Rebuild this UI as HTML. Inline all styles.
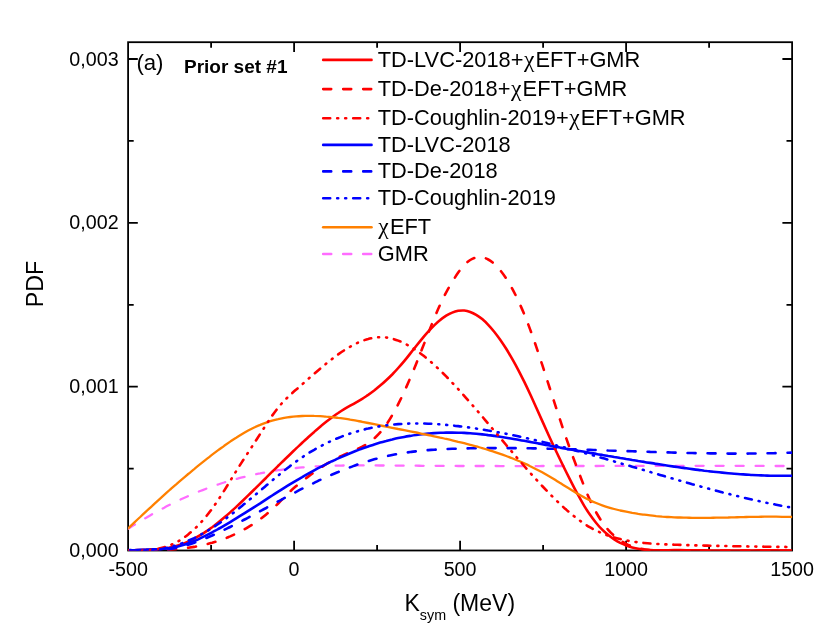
<!DOCTYPE html>
<html><head><meta charset="utf-8"><title>PDF Ksym</title>
<style>html,body{margin:0;padding:0;background:#fff}svg{display:block;will-change:transform}text{font-family:"Liberation Sans",sans-serif;fill:#000}</style></head>
<body>
<svg width="830" height="636" viewBox="0 0 830 636">
<rect width="830" height="636" fill="#fff"/>
<g stroke="#000" stroke-width="1.8" fill="none" stroke-linecap="butt">
<rect x="128.1" y="42.2" width="664.0" height="508.3"/>
<path d="M294.1 550.5v-9.7M294.1 42.2v9.7M460.1 550.5v-9.7M460.1 42.2v9.7M626.1 550.5v-9.7M626.1 42.2v9.7M211.1 550.5v-5.6M211.1 42.2v5.6M377.1 550.5v-5.6M377.1 42.2v5.6M543.1 550.5v-5.6M543.1 42.2v5.6M709.1 550.5v-5.6M709.1 42.2v5.6M128.1 386.7h9.7M792.1 386.7h-9.7M128.1 222.8h9.7M792.1 222.8h-9.7M128.1 59.0h9.7M792.1 59.0h-9.7M128.1 468.6h5.6M792.1 468.6h-5.6M128.1 304.8h5.6M792.1 304.8h-5.6M128.1 140.9h5.6M792.1 140.9h-5.6"/>
</g>
<clipPath id="cp"><rect x="128.1" y="42.2" width="664.0" height="508.5"/></clipPath>
<g fill="none" stroke-width="2.6" stroke-linecap="round" stroke-linejoin="round" clip-path="url(#cp)">
<path stroke="#ff6cff" stroke-dasharray="8 12" stroke-width="2.3" d="M128.2 528.8C130.2 527.5 132.2 526.2 134.2 524.9C136.2 523.7 138.2 522.5 140.2 521.2C142.2 520.0 144.2 518.8 146.2 517.7C148.2 516.5 150.2 515.3 152.2 514.2C154.2 513.1 156.2 512.0 158.2 510.9C160.2 509.8 162.2 508.7 164.2 507.7C166.2 506.6 168.2 505.6 170.2 504.6C172.2 503.6 174.2 502.6 176.2 501.6C178.2 500.7 180.2 499.7 182.2 498.8C184.2 497.9 186.2 497.0 188.2 496.1C190.2 495.2 192.2 494.3 194.2 493.5C196.2 492.7 198.2 491.8 200.2 491.0C202.2 490.3 204.2 489.5 206.2 488.7C208.2 488.0 210.2 487.2 212.2 486.5C214.2 485.8 216.2 485.1 218.2 484.5C220.2 483.8 222.2 483.1 224.2 482.5C226.2 481.9 228.2 481.3 230.2 480.7C232.2 480.1 234.2 479.5 236.2 479.0C238.2 478.5 240.2 477.9 242.2 477.4C244.2 476.9 246.2 476.4 248.2 476.0C250.2 475.5 252.2 475.0 254.2 474.6C256.2 474.2 258.2 473.7 260.2 473.4C262.2 473.0 264.2 472.6 266.2 472.2C268.2 471.8 270.2 471.5 272.2 471.2C274.2 470.8 276.2 470.5 278.2 470.2C280.2 469.9 282.2 469.7 284.2 469.4C286.2 469.1 288.2 468.9 290.2 468.7C292.2 468.4 294.2 468.2 296.2 468.0C298.2 467.8 300.2 467.6 302.2 467.4C304.2 467.3 306.2 467.1 308.2 467.0C310.2 466.8 312.2 466.7 314.2 466.6C316.2 466.4 318.2 466.3 320.2 466.2C322.2 466.1 324.2 466.0 326.2 466.0C328.2 465.9 330.2 465.8 332.2 465.8C334.2 465.7 336.2 465.6 338.2 465.6C340.2 465.6 342.2 465.5 344.2 465.5C346.2 465.5 348.2 465.4 350.2 465.4C352.2 465.4 354.2 465.4 356.2 465.4C358.2 465.4 360.2 465.4 362.2 465.4C364.2 465.4 366.2 465.4 368.2 465.4C370.2 465.4 372.2 465.4 374.2 465.4C376.2 465.5 378.2 465.5 380.2 465.5C382.2 465.5 384.2 465.5 386.2 465.5C388.2 465.5 390.2 465.6 392.2 465.6C394.2 465.6 396.2 465.6 398.2 465.6C400.2 465.6 402.2 465.6 404.2 465.7C406.2 465.7 408.2 465.7 410.2 465.7C412.2 465.7 414.2 465.7 416.2 465.7C418.2 465.7 420.2 465.8 422.2 465.8C424.2 465.8 426.2 465.8 428.2 465.8C430.2 465.8 432.2 465.8 434.2 465.8C436.2 465.8 438.2 465.9 440.2 465.9C442.2 465.9 444.2 465.9 446.2 465.9C448.2 465.9 450.2 465.9 452.2 465.9C454.2 465.9 456.2 465.9 458.2 466.0C460.2 466.0 462.2 466.0 464.2 466.0C466.2 466.0 468.2 466.0 470.2 466.0C472.2 466.0 474.2 466.0 476.2 466.0C478.2 466.0 480.2 466.0 482.2 466.0C484.2 466.0 486.2 466.0 488.2 466.0C490.2 466.0 492.2 466.0 494.2 466.0C496.2 466.0 498.2 466.0 500.2 466.1C502.2 466.1 504.2 466.1 506.2 466.1C508.2 466.1 510.2 466.1 512.2 466.1C514.2 466.1 516.2 466.1 518.2 466.1C520.2 466.1 522.2 466.1 524.2 466.1C526.2 466.1 528.2 466.1 530.2 466.1C532.2 466.1 534.2 466.1 536.2 466.1C538.2 466.1 540.2 466.0 542.2 466.0C544.2 466.0 546.2 466.0 548.2 466.0C550.2 466.0 552.2 466.0 554.2 466.0C556.2 466.0 558.2 466.0 560.2 466.0C562.2 466.0 564.2 466.0 566.2 466.0C568.2 466.0 570.2 466.0 572.2 466.0C574.2 466.0 576.2 466.0 578.2 466.0C580.2 466.0 582.2 466.0 584.2 466.0C586.2 466.0 588.2 466.0 590.2 466.0C592.2 466.0 594.2 466.0 596.2 466.0C598.2 465.9 600.2 465.9 602.2 465.9C604.2 465.9 606.2 465.9 608.2 465.9C610.2 465.9 612.2 465.9 614.2 465.9C616.2 465.9 618.2 465.9 620.2 465.9C622.2 465.9 624.2 465.9 626.2 465.9C628.2 465.9 630.2 465.9 632.2 465.9C634.2 465.9 636.2 465.9 638.2 465.9C640.2 465.9 642.2 465.9 644.2 465.9C646.2 465.8 648.2 465.8 650.2 465.8C652.2 465.8 654.2 465.8 656.2 465.8C658.2 465.8 660.2 465.8 662.2 465.8C664.2 465.8 666.2 465.8 668.2 465.8C670.2 465.8 672.2 465.8 674.2 465.8C676.2 465.8 678.2 465.8 680.2 465.8C682.2 465.8 684.2 465.8 686.2 465.8C688.2 465.8 690.2 465.8 692.2 465.8C694.2 465.8 696.2 465.8 698.2 465.8C700.2 465.8 702.2 465.8 704.2 465.8C706.2 465.8 708.2 465.8 710.2 465.8C712.2 465.8 714.2 465.8 716.2 465.8C718.2 465.8 720.2 465.8 722.2 465.8C724.2 465.8 726.2 465.8 728.2 465.8C730.2 465.8 732.2 465.8 734.2 465.8C736.2 465.8 738.2 465.8 740.2 465.8C742.2 465.8 744.2 465.9 746.2 465.9C748.2 465.9 750.2 465.9 752.2 465.9C754.2 465.9 756.2 465.9 758.2 465.9C760.2 465.9 762.2 465.9 764.2 465.9C766.2 465.9 768.2 465.9 770.2 466.0C772.2 466.0 774.2 466.0 776.2 466.0C778.2 466.0 780.2 466.0 782.2 466.0C784.2 466.0 786.2 466.0 788.2 466.1C789.5 466.1 790.7 466.1 792.0 466.1"/>
<path stroke="#ff0000" stroke-dasharray="8 12" d="M128.2 550.5C130.2 550.5 132.2 550.5 134.2 550.5C136.2 550.5 138.2 550.5 140.2 550.5C142.2 550.5 144.2 550.5 146.2 550.5C148.2 550.4 150.2 550.4 152.2 550.4C154.2 550.3 156.2 550.3 158.2 550.2C160.2 550.2 162.2 550.1 164.2 550.0C166.2 549.9 168.2 549.8 170.2 549.6C172.2 549.5 174.2 549.4 176.2 549.2C178.2 549.0 180.2 548.8 182.2 548.6C184.2 548.3 186.2 548.1 188.2 547.8C190.2 547.5 192.2 547.2 194.2 546.9C196.2 546.5 198.2 546.1 200.2 545.7C202.2 545.3 204.2 544.9 206.2 544.4C208.2 543.9 210.2 543.3 212.2 542.8C214.2 542.2 216.2 541.6 218.2 540.9C220.2 540.3 222.2 539.6 224.2 538.8C226.2 538.1 228.2 537.2 230.2 536.4C232.2 535.5 234.2 534.6 236.2 533.7C238.2 532.7 240.2 531.7 242.2 530.6C244.2 529.5 246.2 528.3 248.2 527.1C250.2 525.9 252.2 524.7 254.2 523.3C256.2 522.0 258.2 520.6 260.2 519.1C262.2 517.6 264.2 516.0 266.2 514.4C268.2 512.8 270.2 511.0 272.2 509.2C274.2 507.4 276.2 505.5 278.2 503.5C280.2 501.5 282.2 499.4 284.2 497.3C286.2 495.2 288.2 493.2 290.2 491.4C292.2 489.5 294.2 487.8 296.2 486.1C298.2 484.5 300.2 482.8 302.2 481.3C304.2 479.7 306.2 478.1 308.2 476.6C310.2 475.1 312.2 473.6 314.2 472.2C316.2 470.8 318.2 469.4 320.2 468.0C322.2 466.7 324.2 465.4 326.2 464.2C328.2 463.0 330.2 461.8 332.2 460.7C334.2 459.5 336.2 458.5 338.2 457.5C340.2 456.5 342.2 455.5 344.2 454.6C346.2 453.8 348.2 452.9 350.2 452.1C352.2 451.3 354.2 450.4 356.2 449.6C358.2 448.7 360.2 447.7 362.2 446.7C364.2 445.6 366.2 444.4 368.2 443.1C370.2 441.7 372.2 440.2 374.2 438.4C376.2 436.7 378.2 434.7 380.2 432.4C382.2 430.2 384.2 427.6 386.2 424.7C388.2 421.8 390.2 418.7 392.2 415.2C394.2 411.8 396.2 408.1 398.2 404.2C400.2 400.2 402.2 396.1 404.2 391.7C406.2 387.4 408.2 382.8 410.2 378.1C412.2 373.4 414.2 368.6 416.2 363.7C418.2 358.7 420.2 353.7 422.2 348.6C424.2 343.6 426.2 338.4 428.2 333.3C430.2 328.2 432.2 323.2 434.2 318.4C436.2 313.5 438.2 308.8 440.2 304.5C442.2 300.1 444.2 296.0 446.2 292.3C448.2 288.6 450.2 285.1 452.2 281.9C454.2 278.6 456.2 275.5 458.2 272.6C460.2 269.7 462.2 267.2 464.2 265.1C466.2 262.9 468.2 261.3 470.2 260.0C472.2 258.8 474.2 257.9 476.2 257.5C478.2 257.1 480.2 257.0 482.2 257.4C484.2 257.7 486.2 258.4 488.2 259.5C490.2 260.6 492.2 262.0 494.2 263.8C496.2 265.6 498.2 267.7 500.2 270.2C502.2 272.6 504.2 275.4 506.2 278.5C508.2 281.5 510.2 284.9 512.2 288.6C514.2 292.3 516.2 296.2 518.2 300.5C520.2 304.8 522.2 309.3 524.2 314.2C526.2 319.0 528.2 324.2 530.2 329.6C532.2 335.1 534.2 340.8 536.2 346.6C538.2 352.5 540.2 358.6 542.2 364.7C544.2 370.8 546.2 377.0 548.2 383.3C550.2 389.5 552.2 395.7 554.2 401.8C556.2 408.0 558.2 414.2 560.2 420.2C562.2 426.3 564.2 432.3 566.2 438.1C568.2 443.9 570.2 449.4 572.2 454.8C574.2 460.2 576.2 465.5 578.2 470.7C580.2 476.0 582.2 481.3 584.2 486.4C586.2 491.5 588.2 496.3 590.2 500.6C592.2 505.0 594.2 508.9 596.2 512.5C598.2 516.0 600.2 519.2 602.2 522.1C604.2 525.0 606.2 527.5 608.2 529.8C610.2 532.1 612.2 534.1 614.2 535.8C616.2 537.6 618.2 539.1 620.2 540.4C622.2 541.7 624.2 542.9 626.2 543.8C628.2 544.8 630.2 545.7 632.2 546.4C634.2 547.1 636.2 547.7 638.2 548.2C640.2 548.7 642.2 549.1 644.2 549.4C646.2 549.8 648.2 550.0 650.2 550.2C652.2 550.4 654.2 550.4 656.2 550.5C658.2 550.6 660.2 550.5 662.2 550.5C664.2 550.5 666.2 550.5 668.2 550.5C670.2 550.5 672.2 550.5 674.2 550.4C676.2 550.4 678.2 550.4 680.2 550.4C682.2 550.4 684.2 550.4 686.2 550.4C688.2 550.3 690.2 550.4 692.2 550.4C694.2 550.4 696.2 550.4 698.2 550.4C700.2 550.4 702.2 550.4 704.2 550.4C706.2 550.4 708.2 550.5 710.2 550.5C712.2 550.5 714.2 550.5 716.2 550.5C718.2 550.5 720.2 550.5 722.2 550.5C724.2 550.5 726.2 550.5 728.2 550.5C730.2 550.5 732.2 550.5 734.2 550.5C736.2 550.5 738.2 550.5 740.2 550.5C742.2 550.5 744.2 550.5 746.2 550.5C748.2 550.5 750.2 550.5 752.2 550.5C754.2 550.5 756.2 550.5 758.2 550.5C760.2 550.5 762.2 550.5 764.2 550.5C766.2 550.5 768.2 550.5 770.2 550.5C772.2 550.5 774.2 550.5 776.2 550.5C778.2 550.5 780.2 550.5 782.2 550.5C784.2 550.5 786.2 550.5 788.2 550.5C789.5 550.5 790.7 550.5 792.0 550.5"/>
<path stroke="#0000ff" stroke-dasharray="8 12" d="M128.2 550.1C130.2 550.2 132.2 550.2 134.2 550.3C136.2 550.3 138.2 550.4 140.2 550.4C142.2 550.4 144.2 550.5 146.2 550.5C148.2 550.5 150.2 550.5 152.2 550.4C154.2 550.4 156.2 550.3 158.2 550.2C160.2 550.1 162.2 549.9 164.2 549.7C166.2 549.5 168.2 549.2 170.2 548.9C172.2 548.6 174.2 548.3 176.2 547.9C178.2 547.4 180.2 547.0 182.2 546.4C184.2 545.9 186.2 545.3 188.2 544.7C190.2 544.1 192.2 543.4 194.2 542.7C196.2 542.0 198.2 541.3 200.2 540.5C202.2 539.7 204.2 538.9 206.2 538.1C208.2 537.2 210.2 536.4 212.2 535.5C214.2 534.6 216.2 533.7 218.2 532.8C220.2 531.8 222.2 530.9 224.2 529.9C226.2 528.9 228.2 528.0 230.2 527.0C232.2 526.0 234.2 525.0 236.2 523.9C238.2 522.9 240.2 521.9 242.2 520.8C244.2 519.8 246.2 518.7 248.2 517.7C250.2 516.6 252.2 515.5 254.2 514.5C256.2 513.4 258.2 512.3 260.2 511.2C262.2 510.1 264.2 509.0 266.2 508.0C268.2 506.9 270.2 505.8 272.2 504.7C274.2 503.6 276.2 502.5 278.2 501.4C280.2 500.3 282.2 499.3 284.2 498.2C286.2 497.1 288.2 496.0 290.2 495.0C292.2 493.9 294.2 492.9 296.2 491.8C298.2 490.8 300.2 489.8 302.2 488.7C304.2 487.7 306.2 486.7 308.2 485.7C310.2 484.7 312.2 483.8 314.2 482.8C316.2 481.8 318.2 480.9 320.2 479.9C322.2 479.0 324.2 478.1 326.2 477.2C328.2 476.3 330.2 475.4 332.2 474.5C334.2 473.7 336.2 472.8 338.2 472.0C340.2 471.1 342.2 470.3 344.2 469.5C346.2 468.7 348.2 468.0 350.2 467.2C352.2 466.5 354.2 465.7 356.2 465.0C358.2 464.3 360.2 463.7 362.2 463.0C364.2 462.3 366.2 461.7 368.2 461.1C370.2 460.5 372.2 459.9 374.2 459.3C376.2 458.8 378.2 458.2 380.2 457.7C382.2 457.2 384.2 456.7 386.2 456.3C388.2 455.8 390.2 455.4 392.2 455.0C394.2 454.6 396.2 454.2 398.2 453.9C400.2 453.5 402.2 453.2 404.2 452.9C406.2 452.6 408.2 452.3 410.2 452.0C412.2 451.8 414.2 451.5 416.2 451.3C418.2 451.1 420.2 450.9 422.2 450.7C424.2 450.5 426.2 450.3 428.2 450.1C430.2 450.0 432.2 449.8 434.2 449.7C436.2 449.6 438.2 449.5 440.2 449.3C442.2 449.2 444.2 449.1 446.2 449.0C448.2 449.0 450.2 448.9 452.2 448.8C454.2 448.7 456.2 448.7 458.2 448.6C460.2 448.6 462.2 448.5 464.2 448.5C466.2 448.4 468.2 448.4 470.2 448.3C472.2 448.3 474.2 448.3 476.2 448.2C478.2 448.2 480.2 448.2 482.2 448.2C484.2 448.1 486.2 448.1 488.2 448.1C490.2 448.1 492.2 448.1 494.2 448.1C496.2 448.1 498.2 448.1 500.2 448.1C502.2 448.1 504.2 448.1 506.2 448.1C508.2 448.1 510.2 448.1 512.2 448.1C514.2 448.1 516.2 448.1 518.2 448.2C520.2 448.2 522.2 448.2 524.2 448.2C526.2 448.2 528.2 448.3 530.2 448.3C532.2 448.3 534.2 448.4 536.2 448.4C538.2 448.4 540.2 448.5 542.2 448.5C544.2 448.6 546.2 448.6 548.2 448.7C550.2 448.7 552.2 448.7 554.2 448.8C556.2 448.8 558.2 448.9 560.2 448.9C562.2 449.0 564.2 449.1 566.2 449.1C568.2 449.2 570.2 449.2 572.2 449.3C574.2 449.3 576.2 449.4 578.2 449.5C580.2 449.5 582.2 449.6 584.2 449.7C586.2 449.7 588.2 449.8 590.2 449.8C592.2 449.9 594.2 450.0 596.2 450.0C598.2 450.1 600.2 450.2 602.2 450.2C604.2 450.3 606.2 450.4 608.2 450.5C610.2 450.5 612.2 450.6 614.2 450.7C616.2 450.7 618.2 450.8 620.2 450.9C622.2 450.9 624.2 451.0 626.2 451.1C628.2 451.1 630.2 451.2 632.2 451.3C634.2 451.4 636.2 451.4 638.2 451.5C640.2 451.6 642.2 451.6 644.2 451.7C646.2 451.8 648.2 451.8 650.2 451.9C652.2 451.9 654.2 452.0 656.2 452.1C658.2 452.1 660.2 452.2 662.2 452.3C664.2 452.3 666.2 452.4 668.2 452.4C670.2 452.5 672.2 452.5 674.2 452.6C676.2 452.7 678.2 452.7 680.2 452.8C682.2 452.8 684.2 452.9 686.2 452.9C688.2 453.0 690.2 453.0 692.2 453.0C694.2 453.1 696.2 453.1 698.2 453.2C700.2 453.2 702.2 453.2 704.2 453.3C706.2 453.3 708.2 453.3 710.2 453.4C712.2 453.4 714.2 453.4 716.2 453.4C718.2 453.5 720.2 453.5 722.2 453.5C724.2 453.5 726.2 453.5 728.2 453.6C730.2 453.6 732.2 453.6 734.2 453.6C736.2 453.6 738.2 453.6 740.2 453.6C742.2 453.6 744.2 453.6 746.2 453.6C748.2 453.6 750.2 453.5 752.2 453.5C754.2 453.5 756.2 453.5 758.2 453.5C760.2 453.4 762.2 453.4 764.2 453.4C766.2 453.3 768.2 453.3 770.2 453.3C772.2 453.2 774.2 453.2 776.2 453.1C778.2 453.1 780.2 453.0 782.2 452.9C784.2 452.9 786.2 452.8 788.2 452.7C789.5 452.7 790.7 452.7 792.0 452.6"/>
<path stroke="#ff0000" d="M128.2 550.5C130.2 550.3 132.2 550.5 134.2 550.3C136.2 550.2 138.2 550.1 140.2 550.0C142.2 549.9 144.2 549.9 146.2 549.8C148.2 549.7 150.2 549.7 152.2 549.6C154.2 549.5 156.2 549.3 158.2 549.2C160.2 549.0 162.2 548.8 164.2 548.5C166.2 548.3 168.2 547.9 170.2 547.5C172.2 547.1 174.2 546.6 176.2 546.1C178.2 545.5 180.2 544.8 182.2 544.1C184.2 543.3 186.2 542.5 188.2 541.6C190.2 540.7 192.2 539.7 194.2 538.6C196.2 537.6 198.2 536.4 200.2 535.2C202.2 534.0 204.2 532.8 206.2 531.4C208.2 530.1 210.2 528.6 212.2 527.2C214.2 525.7 216.2 524.2 218.2 522.6C220.2 521.0 222.2 519.3 224.2 517.6C226.2 515.9 228.2 514.2 230.2 512.4C232.2 510.6 234.2 508.7 236.2 506.9C238.2 505.0 240.2 503.1 242.2 501.2C244.2 499.3 246.2 497.4 248.2 495.4C250.2 493.5 252.2 491.5 254.2 489.5C256.2 487.6 258.2 485.6 260.2 483.6C262.2 481.6 264.2 479.6 266.2 477.7C268.2 475.7 270.2 473.7 272.2 471.7C274.2 469.8 276.2 467.8 278.2 465.8C280.2 463.9 282.2 461.9 284.2 460.0C286.2 458.0 288.2 456.1 290.2 454.2C292.2 452.3 294.2 450.3 296.2 448.4C298.2 446.5 300.2 444.7 302.2 442.8C304.2 440.9 306.2 439.1 308.2 437.2C310.2 435.4 312.2 433.6 314.2 431.9C316.2 430.1 318.2 428.4 320.2 426.7C322.2 425.0 324.2 423.4 326.2 421.8C328.2 420.2 330.2 418.7 332.2 417.2C334.2 415.7 336.2 414.3 338.2 413.0C340.2 411.6 342.2 410.3 344.2 409.1C346.2 407.9 348.2 406.8 350.2 405.7C352.2 404.6 354.2 403.5 356.2 402.3C358.2 401.2 360.2 400.0 362.2 398.8C364.2 397.6 366.2 396.2 368.2 394.9C370.2 393.5 372.2 392.0 374.2 390.5C376.2 388.9 378.2 387.3 380.2 385.6C382.2 384.0 384.2 382.2 386.2 380.3C388.2 378.5 390.2 376.5 392.2 374.5C394.2 372.4 396.2 370.3 398.2 368.0C400.2 365.8 402.2 363.5 404.2 361.1C406.2 358.7 408.2 356.2 410.2 353.6C412.2 351.1 414.2 348.5 416.2 346.0C418.2 343.5 420.2 341.0 422.2 338.6C424.2 336.2 426.2 333.9 428.2 331.7C430.2 329.5 432.2 327.4 434.2 325.4C436.2 323.5 438.2 321.7 440.2 320.1C442.2 318.4 444.2 317.0 446.2 315.7C448.2 314.5 450.2 313.4 452.2 312.6C454.2 311.8 456.2 311.2 458.2 310.8C460.2 310.5 462.2 310.4 464.2 310.5C466.2 310.7 468.2 311.2 470.2 311.9C472.2 312.6 474.2 313.6 476.2 314.8C478.2 316.0 480.2 317.4 482.2 319.1C484.2 320.8 486.2 322.7 488.2 324.8C490.2 326.9 492.2 329.2 494.2 331.7C496.2 334.2 498.2 336.9 500.2 339.7C502.2 342.6 504.2 345.6 506.2 348.8C508.2 352.0 510.2 355.4 512.2 358.9C514.2 362.4 516.2 366.0 518.2 369.8C520.2 373.6 522.2 377.6 524.2 381.6C526.2 385.7 528.2 389.9 530.2 394.2C532.2 398.5 534.2 403.0 536.2 407.5C538.2 411.9 540.2 416.4 542.2 420.9C544.2 425.4 546.2 429.9 548.2 434.3C550.2 438.7 552.2 443.0 554.2 447.3C556.2 451.5 558.2 455.7 560.2 459.8C562.2 463.9 564.2 468.0 566.2 472.0C568.2 476.0 570.2 479.9 572.2 483.8C574.2 487.7 576.2 491.6 578.2 495.2C580.2 498.9 582.2 502.5 584.2 505.8C586.2 509.1 588.2 512.3 590.2 515.1C592.2 518.0 594.2 520.6 596.2 523.0C598.2 525.5 600.2 527.7 602.2 529.7C604.2 531.7 606.2 533.4 608.2 535.1C610.2 536.7 612.2 538.1 614.2 539.4C616.2 540.7 618.2 541.9 620.2 542.9C622.2 543.8 624.2 544.7 626.2 545.5C628.2 546.2 630.2 546.9 632.2 547.4C634.2 547.9 636.2 548.4 638.2 548.7C640.2 549.1 642.2 549.4 644.2 549.6C646.2 549.8 648.2 550.0 650.2 550.1C652.2 550.2 654.2 550.3 656.2 550.3C658.2 550.3 660.2 550.3 662.2 550.3C664.2 550.3 666.2 550.3 668.2 550.2C670.2 550.2 672.2 550.2 674.2 550.1C676.2 550.1 678.2 550.1 680.2 550.1C682.2 550.1 684.2 550.1 686.2 550.2C688.2 550.2 690.2 550.2 692.2 550.2C694.2 550.3 696.2 550.3 698.2 550.3C700.2 550.4 702.2 550.4 704.2 550.5C706.2 550.5 708.2 550.5 710.2 550.5C712.2 550.5 714.2 550.5 716.2 550.5C718.2 550.5 720.2 550.5 722.2 550.5C724.2 550.5 726.2 550.5 728.2 550.5C730.2 550.5 732.2 550.5 734.2 550.5C736.2 550.5 738.2 550.5 740.2 550.5C742.2 550.5 744.2 550.5 746.2 550.5C748.2 550.5 750.2 550.5 752.2 550.5C754.2 550.5 756.2 550.5 758.2 550.4C760.2 550.4 762.2 550.4 764.2 550.4C766.2 550.4 768.2 550.4 770.2 550.4C772.2 550.4 774.2 550.4 776.2 550.4C778.2 550.4 780.2 550.4 782.2 550.5C784.2 550.5 786.2 550.5 788.2 550.5C789.5 550.5 790.7 550.5 792.0 550.5"/>
<path stroke="#0000ff" d="M128.2 550.5C130.2 550.2 132.2 550.4 134.2 550.2C136.2 550.0 138.2 549.9 140.2 549.8C142.2 549.7 144.2 549.6 146.2 549.6C148.2 549.5 150.2 549.5 152.2 549.4C154.2 549.3 156.2 549.3 158.2 549.2C160.2 549.1 162.2 548.9 164.2 548.8C166.2 548.6 168.2 548.3 170.2 548.0C172.2 547.7 174.2 547.4 176.2 546.9C178.2 546.5 180.2 545.9 182.2 545.3C184.2 544.7 186.2 544.1 188.2 543.3C190.2 542.6 192.2 541.8 194.2 541.0C196.2 540.2 198.2 539.3 200.2 538.3C202.2 537.4 204.2 536.4 206.2 535.4C208.2 534.4 210.2 533.4 212.2 532.3C214.2 531.2 216.2 530.2 218.2 529.0C220.2 527.9 222.2 526.8 224.2 525.6C226.2 524.5 228.2 523.3 230.2 522.1C232.2 520.9 234.2 519.7 236.2 518.4C238.2 517.2 240.2 516.0 242.2 514.7C244.2 513.5 246.2 512.2 248.2 510.9C250.2 509.7 252.2 508.4 254.2 507.1C256.2 505.8 258.2 504.5 260.2 503.3C262.2 502.0 264.2 500.7 266.2 499.4C268.2 498.1 270.2 496.8 272.2 495.5C274.2 494.3 276.2 493.0 278.2 491.7C280.2 490.5 282.2 489.2 284.2 487.9C286.2 486.7 288.2 485.5 290.2 484.2C292.2 483.0 294.2 481.8 296.2 480.6C298.2 479.4 300.2 478.2 302.2 477.1C304.2 475.9 306.2 474.8 308.2 473.7C310.2 472.6 312.2 471.5 314.2 470.4C316.2 469.3 318.2 468.2 320.2 467.2C322.2 466.2 324.2 465.1 326.2 464.1C328.2 463.1 330.2 462.2 332.2 461.2C334.2 460.3 336.2 459.3 338.2 458.4C340.2 457.5 342.2 456.6 344.2 455.7C346.2 454.9 348.2 454.0 350.2 453.2C352.2 452.4 354.2 451.6 356.2 450.8C358.2 450.0 360.2 449.3 362.2 448.5C364.2 447.8 366.2 447.1 368.2 446.4C370.2 445.7 372.2 445.1 374.2 444.4C376.2 443.8 378.2 443.2 380.2 442.6C382.2 442.0 384.2 441.5 386.2 441.0C388.2 440.4 390.2 439.9 392.2 439.5C394.2 439.0 396.2 438.5 398.2 438.1C400.2 437.7 402.2 437.3 404.2 436.9C406.2 436.5 408.2 436.2 410.2 435.9C412.2 435.5 414.2 435.2 416.2 435.0C418.2 434.7 420.2 434.4 422.2 434.2C424.2 434.0 426.2 433.8 428.2 433.6C430.2 433.4 432.2 433.3 434.2 433.1C436.2 433.0 438.2 432.9 440.2 432.8C442.2 432.7 444.2 432.7 446.2 432.6C448.2 432.6 450.2 432.6 452.2 432.6C454.2 432.6 456.2 432.6 458.2 432.7C460.2 432.8 462.2 432.8 464.2 432.9C466.2 433.0 468.2 433.2 470.2 433.3C472.2 433.4 474.2 433.6 476.2 433.8C478.2 434.0 480.2 434.2 482.2 434.4C484.2 434.6 486.2 434.8 488.2 435.1C490.2 435.3 492.2 435.6 494.2 435.9C496.2 436.2 498.2 436.5 500.2 436.8C502.2 437.1 504.2 437.4 506.2 437.7C508.2 438.0 510.2 438.4 512.2 438.7C514.2 439.0 516.2 439.4 518.2 439.7C520.2 440.1 522.2 440.5 524.2 440.8C526.2 441.2 528.2 441.6 530.2 441.9C532.2 442.3 534.2 442.7 536.2 443.1C538.2 443.5 540.2 443.8 542.2 444.2C544.2 444.6 546.2 445.0 548.2 445.3C550.2 445.7 552.2 446.1 554.2 446.5C556.2 446.8 558.2 447.2 560.2 447.6C562.2 447.9 564.2 448.3 566.2 448.7C568.2 449.0 570.2 449.4 572.2 449.7C574.2 450.1 576.2 450.4 578.2 450.8C580.2 451.1 582.2 451.5 584.2 451.8C586.2 452.2 588.2 452.5 590.2 452.9C592.2 453.2 594.2 453.6 596.2 453.9C598.2 454.3 600.2 454.6 602.2 454.9C604.2 455.3 606.2 455.6 608.2 456.0C610.2 456.3 612.2 456.6 614.2 457.0C616.2 457.3 618.2 457.6 620.2 458.0C622.2 458.3 624.2 458.6 626.2 459.0C628.2 459.3 630.2 459.6 632.2 460.0C634.2 460.3 636.2 460.6 638.2 461.0C640.2 461.3 642.2 461.6 644.2 461.9C646.2 462.3 648.2 462.6 650.2 462.9C652.2 463.2 654.2 463.5 656.2 463.9C658.2 464.2 660.2 464.5 662.2 464.8C664.2 465.1 666.2 465.4 668.2 465.7C670.2 466.0 672.2 466.3 674.2 466.6C676.2 466.9 678.2 467.2 680.2 467.5C682.2 467.8 684.2 468.0 686.2 468.3C688.2 468.6 690.2 468.9 692.2 469.1C694.2 469.4 696.2 469.7 698.2 469.9C700.2 470.2 702.2 470.4 704.2 470.7C706.2 470.9 708.2 471.1 710.2 471.4C712.2 471.6 714.2 471.8 716.2 472.0C718.2 472.2 720.2 472.4 722.2 472.6C724.2 472.8 726.2 473.0 728.2 473.2C730.2 473.4 732.2 473.6 734.2 473.7C736.2 473.9 738.2 474.1 740.2 474.2C742.2 474.3 744.2 474.5 746.2 474.6C748.2 474.7 750.2 474.9 752.2 475.0C754.2 475.1 756.2 475.2 758.2 475.3C760.2 475.4 762.2 475.4 764.2 475.5C766.2 475.6 768.2 475.6 770.2 475.7C772.2 475.7 774.2 475.7 776.2 475.8C778.2 475.8 780.2 475.8 782.2 475.8C784.2 475.8 786.2 475.8 788.2 475.7C789.5 475.7 790.7 475.7 792.0 475.7"/>
<path stroke="#ff8000" stroke-width="2.3" d="M128.2 528.4C130.2 526.4 132.2 524.5 134.2 522.6C136.2 520.7 138.2 518.8 140.2 517.0C142.2 515.1 144.2 513.2 146.2 511.3C148.2 509.5 150.2 507.6 152.2 505.8C154.2 503.9 156.2 502.1 158.2 500.3C160.2 498.5 162.2 496.7 164.2 494.9C166.2 493.1 168.2 491.3 170.2 489.5C172.2 487.8 174.2 486.0 176.2 484.3C178.2 482.5 180.2 480.8 182.2 479.1C184.2 477.4 186.2 475.7 188.2 474.0C190.2 472.4 192.2 470.7 194.2 469.1C196.2 467.4 198.2 465.8 200.2 464.2C202.2 462.6 204.2 461.0 206.2 459.4C208.2 457.8 210.2 456.3 212.2 454.7C214.2 453.2 216.2 451.7 218.2 450.2C220.2 448.7 222.2 447.3 224.2 445.8C226.2 444.4 228.2 443.0 230.2 441.6C232.2 440.3 234.2 438.9 236.2 437.7C238.2 436.4 240.2 435.2 242.2 434.0C244.2 432.8 246.2 431.7 248.2 430.6C250.2 429.5 252.2 428.5 254.2 427.5C256.2 426.6 258.2 425.7 260.2 424.9C262.2 424.0 264.2 423.3 266.2 422.6C268.2 421.9 270.2 421.3 272.2 420.7C274.2 420.1 276.2 419.6 278.2 419.2C280.2 418.7 282.2 418.3 284.2 417.9C286.2 417.6 288.2 417.3 290.2 417.0C292.2 416.8 294.2 416.6 296.2 416.4C298.2 416.2 300.2 416.1 302.2 416.0C304.2 415.9 306.2 415.9 308.2 415.8C310.2 415.8 312.2 415.8 314.2 415.9C316.2 415.9 318.2 416.0 320.2 416.1C322.2 416.3 324.2 416.4 326.2 416.6C328.2 416.7 330.2 416.9 332.2 417.1C334.2 417.4 336.2 417.6 338.2 417.9C340.2 418.1 342.2 418.4 344.2 418.7C346.2 419.0 348.2 419.3 350.2 419.7C352.2 420.0 354.2 420.4 356.2 420.7C358.2 421.1 360.2 421.4 362.2 421.8C364.2 422.2 366.2 422.6 368.2 423.0C370.2 423.4 372.2 423.8 374.2 424.2C376.2 424.6 378.2 425.0 380.2 425.4C382.2 425.8 384.2 426.2 386.2 426.6C388.2 427.0 390.2 427.4 392.2 427.8C394.2 428.2 396.2 428.6 398.2 429.0C400.2 429.3 402.2 429.7 404.2 430.1C406.2 430.5 408.2 430.9 410.2 431.3C412.2 431.7 414.2 432.1 416.2 432.5C418.2 432.9 420.2 433.4 422.2 433.8C424.2 434.2 426.2 434.6 428.2 435.0C430.2 435.4 432.2 435.9 434.2 436.3C436.2 436.7 438.2 437.1 440.2 437.6C442.2 438.0 444.2 438.5 446.2 438.9C448.2 439.4 450.2 439.9 452.2 440.3C454.2 440.8 456.2 441.3 458.2 441.8C460.2 442.2 462.2 442.7 464.2 443.2C466.2 443.8 468.2 444.3 470.2 444.8C472.2 445.3 474.2 445.9 476.2 446.4C478.2 447.0 480.2 447.5 482.2 448.1C484.2 448.7 486.2 449.3 488.2 449.9C490.2 450.5 492.2 451.2 494.2 451.8C496.2 452.5 498.2 453.2 500.2 453.9C502.2 454.6 504.2 455.3 506.2 456.0C508.2 456.8 510.2 457.5 512.2 458.3C514.2 459.1 516.2 459.9 518.2 460.8C520.2 461.6 522.2 462.5 524.2 463.4C526.2 464.3 528.2 465.2 530.2 466.2C532.2 467.1 534.2 468.1 536.2 469.2C538.2 470.2 540.2 471.2 542.2 472.3C544.2 473.4 546.2 474.6 548.2 475.7C550.2 476.9 552.2 478.1 554.2 479.3C556.2 480.6 558.2 481.8 560.2 483.1C562.2 484.3 564.2 485.6 566.2 486.8C568.2 488.1 570.2 489.3 572.2 490.5C574.2 491.8 576.2 492.9 578.2 494.1C580.2 495.3 582.2 496.4 584.2 497.4C586.2 498.5 588.2 499.5 590.2 500.4C592.2 501.4 594.2 502.2 596.2 503.0C598.2 503.9 600.2 504.6 602.2 505.3C604.2 506.0 606.2 506.7 608.2 507.3C610.2 507.9 612.2 508.5 614.2 509.0C616.2 509.5 618.2 510.0 620.2 510.5C622.2 510.9 624.2 511.3 626.2 511.7C628.2 512.1 630.2 512.5 632.2 512.9C634.2 513.2 636.2 513.5 638.2 513.9C640.2 514.2 642.2 514.4 644.2 514.7C646.2 515.0 648.2 515.2 650.2 515.4C652.2 515.7 654.2 515.9 656.2 516.1C658.2 516.2 660.2 516.4 662.2 516.6C664.2 516.7 666.2 516.9 668.2 517.0C670.2 517.1 672.2 517.2 674.2 517.3C676.2 517.4 678.2 517.5 680.2 517.5C682.2 517.6 684.2 517.7 686.2 517.7C688.2 517.7 690.2 517.8 692.2 517.8C694.2 517.8 696.2 517.8 698.2 517.8C700.2 517.8 702.2 517.8 704.2 517.8C706.2 517.8 708.2 517.8 710.2 517.8C712.2 517.8 714.2 517.7 716.2 517.7C718.2 517.7 720.2 517.6 722.2 517.6C724.2 517.5 726.2 517.5 728.2 517.5C730.2 517.4 732.2 517.4 734.2 517.3C736.2 517.3 738.2 517.2 740.2 517.2C742.2 517.1 744.2 517.1 746.2 517.0C748.2 517.0 750.2 516.9 752.2 516.9C754.2 516.9 756.2 516.8 758.2 516.8C760.2 516.8 762.2 516.7 764.2 516.7C766.2 516.7 768.2 516.7 770.2 516.7C772.2 516.7 774.2 516.7 776.2 516.7C778.2 516.7 780.2 516.7 782.2 516.8C784.2 516.8 786.2 516.8 788.2 516.9C789.5 516.9 790.7 517.0 792.0 517.0"/>
<path stroke="#ff0000" stroke-dasharray="7 7 1 7 1 7" d="M128.2 550.4C130.2 550.5 132.2 550.5 134.2 550.5C136.2 550.5 138.2 550.5 140.2 550.5C142.2 550.5 144.2 550.4 146.2 550.3C148.2 550.2 150.2 550.0 152.2 549.7C154.2 549.5 156.2 549.2 158.2 548.8C160.2 548.4 162.2 547.9 164.2 547.3C166.2 546.7 168.2 546.0 170.2 545.2C172.2 544.4 174.2 543.4 176.2 542.4C178.2 541.3 180.2 540.1 182.2 538.8C184.2 537.5 186.2 536.0 188.2 534.4C190.2 532.8 192.2 531.1 194.2 529.3C196.2 527.4 198.2 525.4 200.2 523.2C202.2 521.1 204.2 518.8 206.2 516.3C208.2 513.9 210.2 511.3 212.2 508.6C214.2 505.8 216.2 502.9 218.2 499.9C220.2 496.9 222.2 493.7 224.2 490.6C226.2 487.4 228.2 484.1 230.2 480.9C232.2 477.6 234.2 474.3 236.2 471.1C238.2 467.9 240.2 464.8 242.2 461.6C244.2 458.5 246.2 455.5 248.2 452.4C250.2 449.3 252.2 446.3 254.2 443.2C256.2 440.1 258.2 437.0 260.2 433.9C262.2 430.8 264.2 427.6 266.2 424.6C268.2 421.5 270.2 418.5 272.2 415.6C274.2 412.8 276.2 410.1 278.2 407.6C280.2 405.1 282.2 402.9 284.2 400.8C286.2 398.7 288.2 396.8 290.2 394.9C292.2 393.1 294.2 391.3 296.2 389.6C298.2 387.8 300.2 386.1 302.2 384.3C304.2 382.5 306.2 380.8 308.2 379.0C310.2 377.2 312.2 375.5 314.2 373.8C316.2 372.0 318.2 370.3 320.2 368.6C322.2 366.9 324.2 365.2 326.2 363.6C328.2 362.0 330.2 360.4 332.2 358.9C334.2 357.3 336.2 355.8 338.2 354.4C340.2 353.0 342.2 351.6 344.2 350.3C346.2 349.0 348.2 347.8 350.2 346.7C352.2 345.5 354.2 344.5 356.2 343.5C358.2 342.6 360.2 341.7 362.2 340.9C364.2 340.2 366.2 339.5 368.2 339.0C370.2 338.4 372.2 338.0 374.2 337.7C376.2 337.4 378.2 337.2 380.2 337.2C382.2 337.2 384.2 337.3 386.2 337.5C388.2 337.8 390.2 338.2 392.2 338.7C394.2 339.2 396.2 339.8 398.2 340.6C400.2 341.4 402.2 342.2 404.2 343.2C406.2 344.2 408.2 345.3 410.2 346.5C412.2 347.7 414.2 349.0 416.2 350.4C418.2 351.7 420.2 353.2 422.2 354.8C424.2 356.3 426.2 357.9 428.2 359.6C430.2 361.3 432.2 363.0 434.2 364.9C436.2 366.7 438.2 368.6 440.2 370.5C442.2 372.4 444.2 374.4 446.2 376.4C448.2 378.5 450.2 380.6 452.2 382.7C454.2 384.8 456.2 386.9 458.2 389.1C460.2 391.3 462.2 393.5 464.2 395.8C466.2 398.0 468.2 400.3 470.2 402.6C472.2 404.9 474.2 407.2 476.2 409.5C478.2 411.8 480.2 414.2 482.2 416.5C484.2 418.9 486.2 421.2 488.2 423.6C490.2 426.0 492.2 428.4 494.2 430.7C496.2 433.1 498.2 435.5 500.2 437.9C502.2 440.2 504.2 442.6 506.2 445.0C508.2 447.4 510.2 449.7 512.2 452.1C514.2 454.4 516.2 456.8 518.2 459.1C520.2 461.4 522.2 463.7 524.2 466.0C526.2 468.3 528.2 470.6 530.2 472.8C532.2 475.1 534.2 477.3 536.2 479.5C538.2 481.7 540.2 483.9 542.2 486.0C544.2 488.1 546.2 490.2 548.2 492.3C550.2 494.4 552.2 496.4 554.2 498.4C556.2 500.3 558.2 502.3 560.2 504.1C562.2 506.0 564.2 507.9 566.2 509.6C568.2 511.4 570.2 513.1 572.2 514.7C574.2 516.4 576.2 517.9 578.2 519.4C580.2 520.9 582.2 522.3 584.2 523.7C586.2 525.0 588.2 526.2 590.2 527.4C592.2 528.5 594.2 529.6 596.2 530.6C598.2 531.6 600.2 532.5 602.2 533.3C604.2 534.2 606.2 534.9 608.2 535.6C610.2 536.3 612.2 537.0 614.2 537.5C616.2 538.1 618.2 538.6 620.2 539.1C622.2 539.6 624.2 540.0 626.2 540.4C628.2 540.8 630.2 541.2 632.2 541.5C634.2 541.8 636.2 542.1 638.2 542.3C640.2 542.6 642.2 542.8 644.2 543.0C646.2 543.2 648.2 543.4 650.2 543.5C652.2 543.7 654.2 543.8 656.2 543.9C658.2 544.0 660.2 544.1 662.2 544.2C664.2 544.3 666.2 544.4 668.2 544.5C670.2 544.6 672.2 544.6 674.2 544.7C676.2 544.8 678.2 544.8 680.2 544.9C682.2 545.0 684.2 545.0 686.2 545.1C688.2 545.1 690.2 545.2 692.2 545.2C694.2 545.3 696.2 545.4 698.2 545.4C700.2 545.5 702.2 545.5 704.2 545.6C706.2 545.6 708.2 545.7 710.2 545.7C712.2 545.7 714.2 545.8 716.2 545.8C718.2 545.9 720.2 545.9 722.2 546.0C724.2 546.0 726.2 546.0 728.2 546.1C730.2 546.1 732.2 546.2 734.2 546.2C736.2 546.2 738.2 546.3 740.2 546.3C742.2 546.3 744.2 546.4 746.2 546.4C748.2 546.4 750.2 546.5 752.2 546.5C754.2 546.5 756.2 546.6 758.2 546.6C760.2 546.6 762.2 546.6 764.2 546.7C766.2 546.7 768.2 546.7 770.2 546.8C772.2 546.8 774.2 546.8 776.2 546.8C778.2 546.9 780.2 546.9 782.2 546.9C784.2 546.9 786.2 546.9 788.2 547.0C789.5 547.0 790.7 547.0 792.0 547.0"/>
<path stroke="#0000ff" stroke-dasharray="7 7 1 7 1 7" stroke-dashoffset="-2" d="M128.2 549.8C130.2 550.0 132.2 550.3 134.2 550.4C136.2 550.6 138.2 550.5 140.2 550.5C142.2 550.5 144.2 550.6 146.2 550.5C148.2 550.4 150.2 550.4 152.2 550.2C154.2 550.0 156.2 549.8 158.2 549.5C160.2 549.2 162.2 548.8 164.2 548.4C166.2 548.0 168.2 547.5 170.2 547.0C172.2 546.5 174.2 545.9 176.2 545.2C178.2 544.6 180.2 543.9 182.2 543.2C184.2 542.4 186.2 541.6 188.2 540.8C190.2 539.9 192.2 539.0 194.2 538.1C196.2 537.1 198.2 536.1 200.2 535.0C202.2 534.0 204.2 532.9 206.2 531.7C208.2 530.5 210.2 529.3 212.2 528.0C214.2 526.7 216.2 525.4 218.2 524.0C220.2 522.7 222.2 521.3 224.2 519.8C226.2 518.3 228.2 516.8 230.2 515.3C232.2 513.8 234.2 512.2 236.2 510.6C238.2 509.0 240.2 507.4 242.2 505.8C244.2 504.1 246.2 502.5 248.2 500.8C250.2 499.1 252.2 497.4 254.2 495.8C256.2 494.1 258.2 492.4 260.2 490.7C262.2 489.0 264.2 487.3 266.2 485.6C268.2 483.9 270.2 482.2 272.2 480.5C274.2 478.8 276.2 477.1 278.2 475.5C280.2 473.9 282.2 472.2 284.2 470.6C286.2 469.0 288.2 467.5 290.2 465.9C292.2 464.4 294.2 462.9 296.2 461.5C298.2 460.0 300.2 458.6 302.2 457.3C304.2 455.9 306.2 454.6 308.2 453.4C310.2 452.1 312.2 450.9 314.2 449.8C316.2 448.6 318.2 447.5 320.2 446.4C322.2 445.4 324.2 444.3 326.2 443.3C328.2 442.4 330.2 441.4 332.2 440.5C334.2 439.6 336.2 438.8 338.2 438.0C340.2 437.1 342.2 436.4 344.2 435.6C346.2 434.9 348.2 434.2 350.2 433.5C352.2 432.9 354.2 432.2 356.2 431.7C358.2 431.1 360.2 430.5 362.2 430.0C364.2 429.5 366.2 429.0 368.2 428.6C370.2 428.1 372.2 427.7 374.2 427.3C376.2 426.9 378.2 426.6 380.2 426.2C382.2 425.9 384.2 425.6 386.2 425.4C388.2 425.1 390.2 424.9 392.2 424.7C394.2 424.5 396.2 424.3 398.2 424.1C400.2 424.0 402.2 423.9 404.2 423.8C406.2 423.7 408.2 423.6 410.2 423.5C412.2 423.5 414.2 423.5 416.2 423.5C418.2 423.4 420.2 423.5 422.2 423.5C424.2 423.5 426.2 423.6 428.2 423.7C430.2 423.8 432.2 423.8 434.2 424.0C436.2 424.1 438.2 424.2 440.2 424.4C442.2 424.5 444.2 424.7 446.2 424.9C448.2 425.0 450.2 425.2 452.2 425.4C454.2 425.7 456.2 425.9 458.2 426.1C460.2 426.3 462.2 426.6 464.2 426.9C466.2 427.1 468.2 427.4 470.2 427.7C472.2 428.0 474.2 428.2 476.2 428.5C478.2 428.9 480.2 429.2 482.2 429.5C484.2 429.8 486.2 430.1 488.2 430.5C490.2 430.8 492.2 431.2 494.2 431.6C496.2 431.9 498.2 432.3 500.2 432.7C502.2 433.0 504.2 433.4 506.2 433.8C508.2 434.2 510.2 434.6 512.2 435.1C514.2 435.5 516.2 435.9 518.2 436.3C520.2 436.8 522.2 437.2 524.2 437.6C526.2 438.1 528.2 438.5 530.2 439.0C532.2 439.5 534.2 439.9 536.2 440.4C538.2 440.9 540.2 441.4 542.2 441.8C544.2 442.3 546.2 442.8 548.2 443.3C550.2 443.8 552.2 444.3 554.2 444.8C556.2 445.4 558.2 445.9 560.2 446.4C562.2 446.9 564.2 447.4 566.2 448.0C568.2 448.5 570.2 449.0 572.2 449.6C574.2 450.1 576.2 450.7 578.2 451.2C580.2 451.8 582.2 452.3 584.2 452.9C586.2 453.4 588.2 454.0 590.2 454.5C592.2 455.1 594.2 455.7 596.2 456.2C598.2 456.8 600.2 457.4 602.2 458.0C604.2 458.5 606.2 459.1 608.2 459.7C610.2 460.3 612.2 460.9 614.2 461.4C616.2 462.0 618.2 462.6 620.2 463.2C622.2 463.8 624.2 464.4 626.2 464.9C628.2 465.5 630.2 466.1 632.2 466.7C634.2 467.3 636.2 467.9 638.2 468.5C640.2 469.1 642.2 469.7 644.2 470.2C646.2 470.8 648.2 471.4 650.2 472.0C652.2 472.6 654.2 473.2 656.2 473.8C658.2 474.4 660.2 474.9 662.2 475.5C664.2 476.1 666.2 476.7 668.2 477.3C670.2 477.9 672.2 478.4 674.2 479.0C676.2 479.6 678.2 480.2 680.2 480.7C682.2 481.3 684.2 481.9 686.2 482.5C688.2 483.0 690.2 483.6 692.2 484.2C694.2 484.7 696.2 485.3 698.2 485.8C700.2 486.4 702.2 486.9 704.2 487.5C706.2 488.0 708.2 488.6 710.2 489.1C712.2 489.6 714.2 490.2 716.2 490.7C718.2 491.2 720.2 491.8 722.2 492.3C724.2 492.8 726.2 493.3 728.2 493.8C730.2 494.3 732.2 494.8 734.2 495.3C736.2 495.8 738.2 496.3 740.2 496.8C742.2 497.3 744.2 497.8 746.2 498.2C748.2 498.7 750.2 499.2 752.2 499.6C754.2 500.1 756.2 500.5 758.2 501.0C760.2 501.4 762.2 501.8 764.2 502.3C766.2 502.7 768.2 503.1 770.2 503.5C772.2 503.9 774.2 504.3 776.2 504.7C778.2 505.1 780.2 505.5 782.2 505.9C784.2 506.3 786.2 506.6 788.2 507.0C789.5 507.2 790.7 507.4 792.0 507.7"/>
<path stroke="#ff0000" d="M323.2 59.9H371.5"/>
<path stroke="#ff0000" stroke-dasharray="8 12" d="M323.2 89.1H371.5"/>
<path stroke="#ff0000" stroke-dasharray="7 7 1 7 1 7" d="M323.2 118.3H371.5"/>
<path stroke="#0000ff" d="M323.2 144.9H371.5"/>
<path stroke="#0000ff" stroke-dasharray="8 12" d="M323.2 171.4H371.5"/>
<path stroke="#0000ff" stroke-dasharray="7 7 1 7 1 7" d="M323.2 198.2H371.5"/>
<path stroke="#ff8000" d="M323.2 227.2H371.5"/>
<path stroke="#ff6cff" stroke-dasharray="8 12" d="M323.2 254.0H371.5"/>
</g>
<g font-size="21.8">
<text x="377.8" y="66.7">TD-LVC-2018+<tspan font-family="Liberation Serif" font-size="23.5" dx="0.5" letter-spacing="1.2">χ</tspan>EFT+GMR</text>
<text x="377.8" y="95.9">TD-De-2018+<tspan font-family="Liberation Serif" font-size="23.5" dx="0.5" letter-spacing="1.2">χ</tspan>EFT+GMR</text>
<text x="377.8" y="125.1">TD-Coughlin-2019+<tspan font-family="Liberation Serif" font-size="23.5" dx="0.5" letter-spacing="1.2">χ</tspan>EFT+GMR</text>
<text x="377.8" y="151.7">TD-LVC-2018</text>
<text x="377.8" y="178.2">TD-De-2018</text>
<text x="377.8" y="205.0">TD-Coughlin-2019</text>
<text x="377.8" y="234.0"><tspan font-family="Liberation Serif" font-size="23.5" dx="0.5" letter-spacing="1.2">χ</tspan>EFT</text>
<text x="377.8" y="260.8">GMR</text>
</g>
<g font-size="19.7" text-anchor="end">
<text x="118.6" y="557.0">0,000</text>
<text x="118.6" y="393.2">0,001</text>
<text x="118.6" y="229.3">0,002</text>
<text x="118.6" y="65.5">0,003</text>
</g>
<g font-size="19.7" text-anchor="middle">
<text x="128.2" y="576">-500</text>
<text x="294.1" y="576">0</text>
<text x="460.1" y="576">500</text>
<text x="626.1" y="576">1000</text>
<text x="792.1" y="576">1500</text>
</g>
<text x="404.5" y="610.8" font-size="23">K<tspan font-size="14.3" dy="9">sym</tspan><tspan dy="-9"> (MeV)</tspan></text>
<text transform="translate(43.4 284) rotate(-90)" text-anchor="middle" font-size="23.3">PDF</text>
<text x="136.4" y="70.4" font-size="22.2">(a)</text>
<text x="184" y="73" font-size="19" font-weight="bold">Prior set #1</text>
</svg>
</body></html>
